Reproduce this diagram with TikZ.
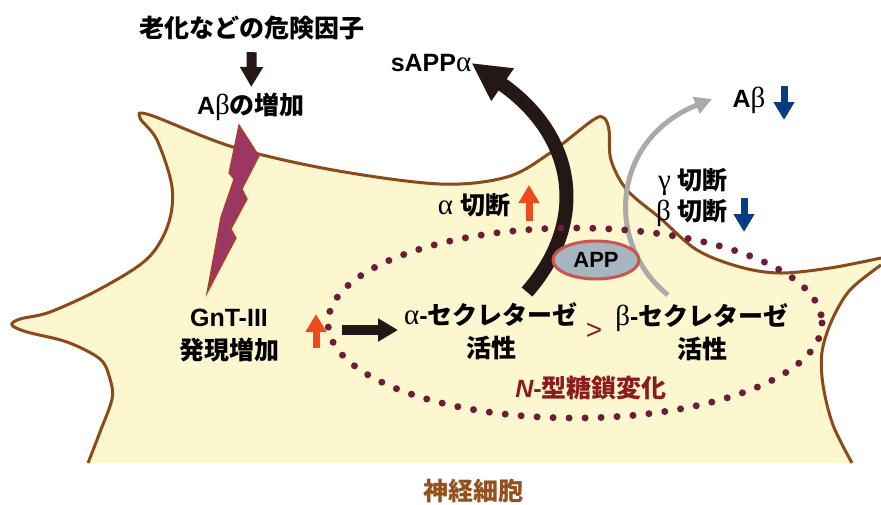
\documentclass[tikz,border=0pt]{standalone}
\usepackage{fontspec}
\setmainfont{Liberation Sans}
\newfontfamily\jp{Noto Sans CJK JP}
\newfontfamily\gk{Liberation Serif}
\newcommand\grk[1]{{\gk\mdseries\fontsize{29}{33}\selectfont #1}}
\usetikzlibrary{arrows.meta,shapes.geometric}
\definecolor{CellFill}{RGB}{252,247,207}
\definecolor{CellEdge}{RGB}{139,74,26}
\definecolor{BoltFill}{RGB}{155,55,98}
\definecolor{BoltEdge}{RGB}{175,65,30}
\definecolor{GlyDot}{RGB}{110,28,56}
\definecolor{Blk}{RGB}{35,24,21}
\definecolor{GrayArr}{RGB}{170,170,170}
\definecolor{AppFill}{RGB}{167,181,192}
\definecolor{AppEdge}{RGB}{200,85,78}
\definecolor{UpOrange}{RGB}{238,75,28}
\definecolor{DownBlue}{RGB}{10,60,130}
\definecolor{GlyRed}{RGB}{140,28,28}
\definecolor{CellText}{RGB}{150,80,30}
\begin{document}
\begin{tikzpicture}[x=1pt,y=-1pt,>=Triangle,
  lbl/.style={font=\fontsize{25}{33}\selectfont\bfseries,align=center,inner sep=0pt},
  blkarr/.style={draw=Blk,line width=10pt,-{Triangle[length=20pt,width=22pt]}},
  ind/.style={line width=7pt,-{Triangle[length=18pt,width=20pt]}},
  dots/.style={draw=GlyDot,line width=7pt,line cap=round,dash pattern=on 0pt off 16pt}]
\useasboundingbox (0,0) rectangle (881,504);
% neuron body
\fill[CellFill] plot[smooth,tension=.55] coordinates {(88,463) (100,432) (112,399) (110,379) (100,359) (67,342) (27,332) (12,325) (20,319) (50,312) (100,289) (147,259) (168,225) (172,187) (157,140) (140,118) (150,115) (233,147) (333,170) (440,184) (507,177) (550,153) (593,120) (604,118) (609,130) (611,160) (627,190) (660,218) (697,250) (740,267) (780,273) (830,268) (881,258)}
  -- (890,258) -- (890,266)
  -- plot[smooth,tension=.55] coordinates {(881,265) (850,290) (832,320) (822,352) (823,385) (833,425) (852,463)} -- cycle;
\draw[CellEdge,line width=3pt] plot[smooth,tension=.55] coordinates {(88,463) (100,432) (112,399) (110,379) (100,359) (67,342) (27,332) (12,325) (20,319) (50,312) (100,289) (147,259) (168,225) (172,187) (157,140) (140,118) (150,115) (233,147) (333,170) (440,184) (507,177) (550,153) (593,120) (604,118) (609,130) (611,160) (627,190) (660,218) (697,250) (740,267) (780,273) (830,268) (881,258)};
\draw[CellEdge,line width=3pt] plot[smooth,tension=.55] coordinates {(881,265) (850,290) (832,320) (822,352) (823,385) (833,425) (852,463)};
% lightning bolt
\draw[fill=BoltFill,draw=BoltEdge,line width=1.2pt] (239,125)--(259,156)--(242,189)--(247,199)--(231,229)--(236,238)--(207,293)--(221,217)--(234,179)--(229,173)--cycle;
% labels
\node[lbl] (risk) at (252,28) {\jp 老化などの危険因子};
\node[lbl] (abup) at (251,107) {A\grk{β}{\jp の増加}};
\node[lbl] (sapp) at (431,63) {sAPP\grk{α}};
\node[lbl] (ab) at (749,100) {A\grk{β}};
\node[lbl] (gcut) at (693,182) {\grk{γ} {\jp 切断}};
\node[lbl] (bcut) at (692,213) {\grk{β} {\jp 切断}};
\node[lbl] (acut) at (474,205) {\grk{α} {\jp 切断}};
\node[lbl] (gnt) at (229,336) {GnT-III\\{\jp 発現増加}};
\node[lbl] (asec) at (491,331) {\grk{α}-{\jp セクレターゼ}\\{\jp 活性}};
\node[lbl] (bsec) at (702,332) {\grk{β}-{\jp セクレターゼ}\\{\jp 活性}};
\node[lbl,text=GlyRed,font=\fontsize{28}{28}\selectfont] (gt) at (594,331) {>};
\node[lbl,text=GlyRed] (nglyc) at (591,388) {\itshape N\upshape -{\jp 型糖鎖変化}};
\node[lbl,text=CellText] (neuron) at (473,491) {\jp 神経細胞};
% cleavage paths
\coordinate (afoot) at (527,292);\coordinate (gfoot) at (668,295);
\draw[draw=Blk,line width=14pt,-{Triangle[length=38pt,width=37pt]}] (afoot) .. controls (590,220) and (575,135) .. (sapp.east);
\draw[draw=GrayArr,line width=5pt,-{Triangle[length=17pt,width=17pt]}] (gfoot) .. controls (605,245) and (610,140) .. (712,99);
% N-glycan region
\draw[dots] (575,323) ellipse (247 and 95);
\node[ellipse,draw=AppEdge,line width=3pt,fill=AppFill,minimum width=86pt,minimum height=38pt,inner sep=0pt,font=\fontsize{22}{22}\selectfont\bfseries] (app) at (596,260) {APP};
% arrows
\draw[blkarr,shorten <=12pt,shorten >=6pt] (risk) -- (abup);
\coordinate (gntout) at (342,330);
\draw[blkarr,shorten >=6pt] (gntout) -- (gntout -| asec.west);
\draw[ind,UpOrange] (529,221) -- (529,185);
\draw[ind,UpOrange] (316,348) -- (316,314);
\draw[ind,DownBlue] (784,86) -- (784,120);
\draw[ind,DownBlue] (744,198) -- (744,232);
\end{tikzpicture}
\end{document}
